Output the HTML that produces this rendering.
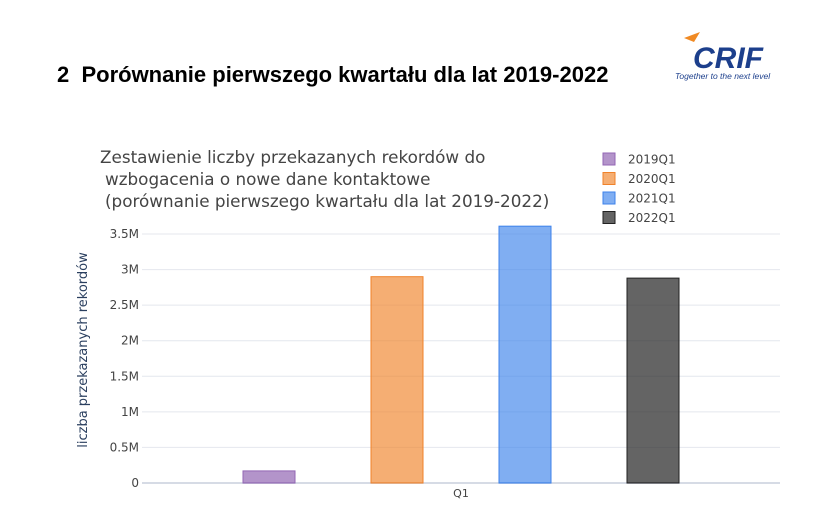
<!DOCTYPE html>
<html><head><meta charset="utf-8"><style>
body{margin:0;background:#fff;width:820px;height:530px;overflow:hidden;position:relative;font-family:"Liberation Sans",sans-serif}
#h{position:absolute;left:57px;top:62px;font-size:22px;font-weight:bold;color:#000;white-space:nowrap}
#logo{position:absolute;left:670px;top:26px}
svg text{font-family:"DejaVu Sans","Liberation Sans",sans-serif}
</style></head><body>
<div id="h">2&nbsp; Porównanie pierwszego kwartału dla lat 2019-2022</div>
<svg id="logo" width="115" height="60">
<path d="M14 12 L30 6 L24 16 Z" fill="#f08a24"/>
<text x="58" y="42" font-size="30" font-weight="bold" font-style="italic" fill="#1c3f8c" text-anchor="middle" style="font-family:'Liberation Sans',sans-serif">CRIF</text>
<text x="5" y="53" font-size="8.5" font-style="italic" fill="#1c3f8c" style="font-family:'Liberation Sans',sans-serif">Together to the next level</text>
</svg>
<svg id="chart" width="820" height="530" style="position:absolute;left:0;top:0">
<g id="grid"></g><g id="bars"></g><g id="ticks"></g>
<text x="100" y="163" font-size="16.8" fill="#444">Zestawienie liczby przekazanych rekordów do</text>
<text x="105" y="185" font-size="16.8" fill="#444">wzbogacenia o nowe dane kontaktowe</text>
<text x="105" y="207" font-size="16.8" fill="#444">(porównanie pierwszego kwartału dla lat 2019-2022)</text>
<text transform="translate(87,350) rotate(-90)" text-anchor="middle" font-size="13" fill="#2a3f5f">liczba przekazanych rekordów</text>
<text x="461" y="497" text-anchor="middle" font-size="11" fill="#444">Q1</text>
<g id="legend"></g>
</svg>
<script>
const series=["2019Q1","2020Q1","2021Q1","2022Q1"];
const values=[170000,2900000,3610000,2880000];
const tickVals=[0,500000,1000000,1500000,2000000,2500000,3000000,3500000];
const tickLabels=["0","0.5M","1M","1.5M","2M","2.5M","3M","3.5M"];
const fills=["rgba(147,102,180,0.7)","rgba(240,130,40,0.65)","rgba(60,130,235,0.65)","rgba(40,40,40,0.72)"];
const strokes=["#9366b4","#f0822a","#3c82eb","#222"];
const NS="http://www.w3.org/2000/svg";
const x0=142,x1=780,yb=483,yt=234;
const y=v=>yb-(v/3500000)*(yb-yt);
const bw=52,step=128,cx=461;
const bx=i=>cx+(i-(series.length-1)/2)*step-bw/2;
function mk(t,a,p){const e=document.createElementNS(NS,t);for(const k in a)e.setAttribute(k,a[k]);p.appendChild(e);return e;}
const G=document.getElementById('grid'),T=document.getElementById('ticks'),B=document.getElementById('bars'),L=document.getElementById('legend');
tickVals.forEach((v,i)=>{
 const l=mk('line',{x1:x0,x2:x1,y1:y(v),y2:y(v),stroke:i==0?'#d6dbe5':'#e4e7ee','stroke-width':i==0?2:1},G);
 
 
 const t=mk('text',{x:139,y:y(v)+4,'text-anchor':'end','font-size':12,fill:'#444'},T);
 t.textContent=tickLabels[i];
 
 
});
values.forEach((v,i)=>{
 const r=mk('rect',{x:bx(i),y:y(v),width:bw,height:yb-y(v),fill:fills[i],stroke:strokes[i],'stroke-width':1},B);
 
 
 const ly=159+i*19.5;
 const s=mk('rect',{x:603,y:ly-6,width:12,height:12,fill:fills[i],stroke:strokes[i],'stroke-width':1},L);
 
 
 const t=mk('text',{x:628,y:ly+4.5,'font-size':12,fill:'#444'},L);
 t.textContent=series[i];
 
 
});
</script>
</body></html>
